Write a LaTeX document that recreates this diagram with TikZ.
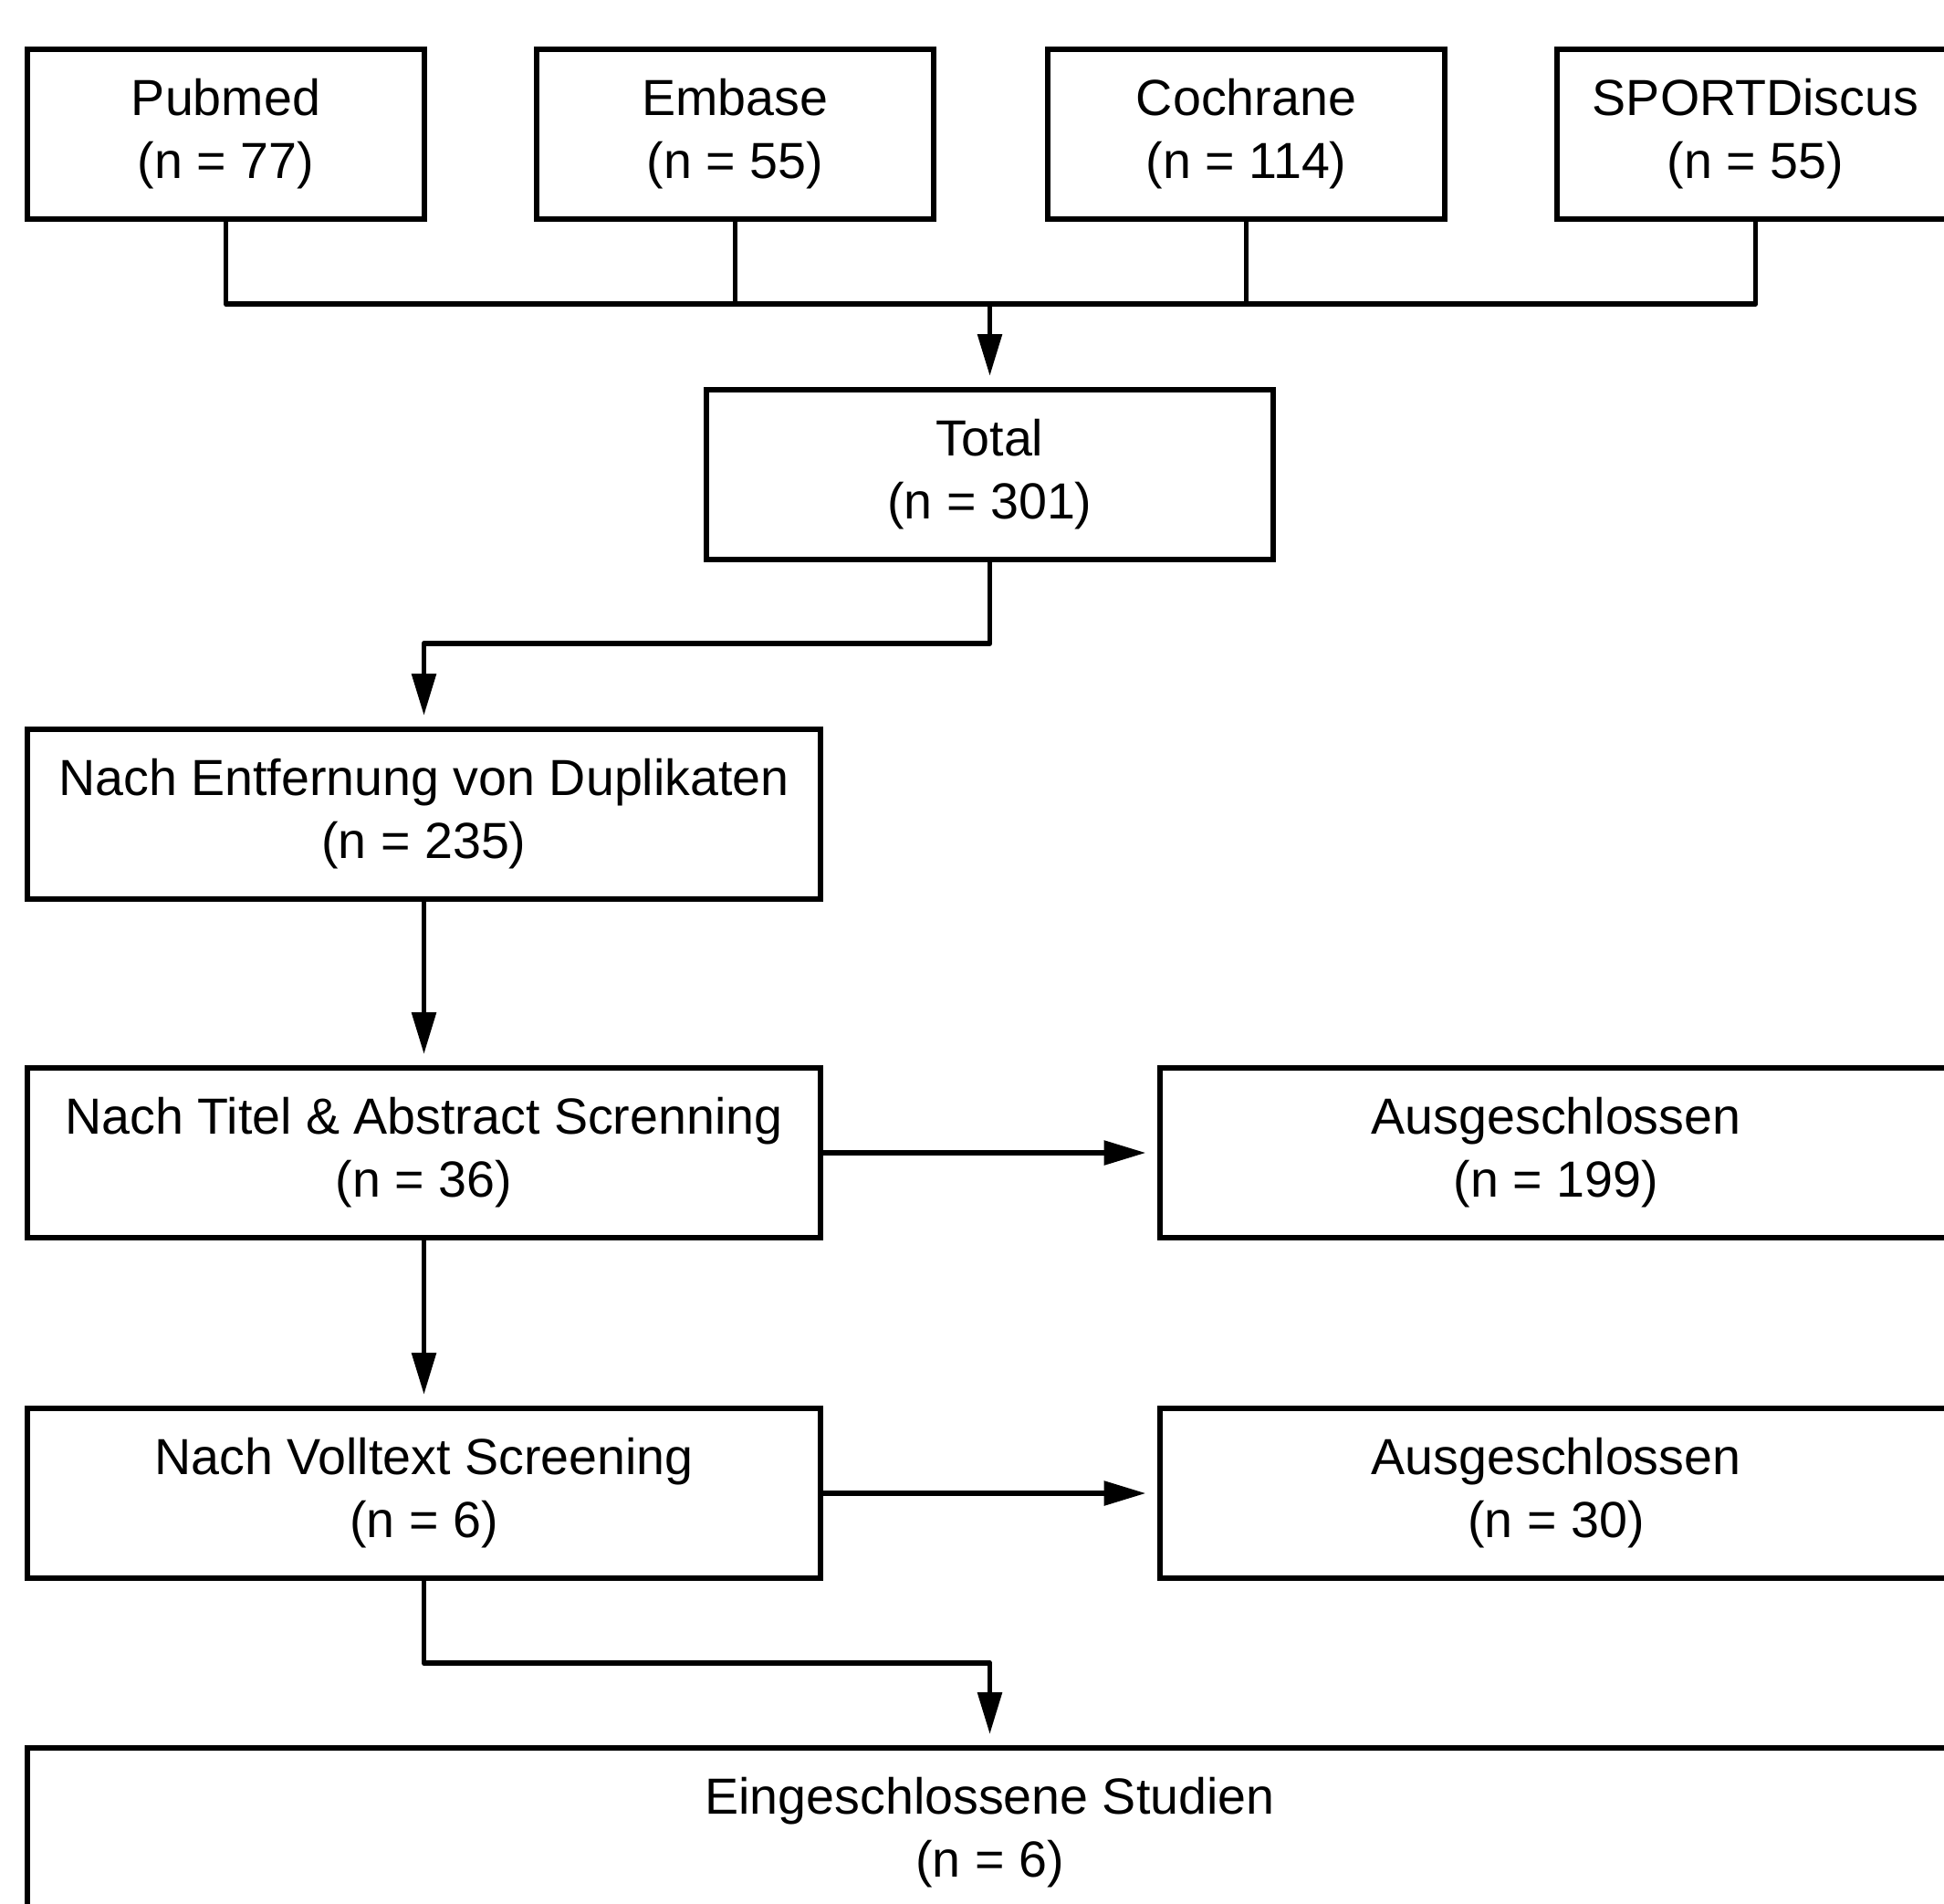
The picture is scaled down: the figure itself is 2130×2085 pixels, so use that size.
\documentclass[tikz,border=0pt]{standalone}
\usepackage{fontspec}
\setmainfont{Liberation Sans}
\usetikzlibrary{arrows.meta}
\begin{document}
\begin{tikzpicture}[x=0.5pt,y=-0.5pt,
  box/.style={draw=black,line width=3pt,rectangle,align=center,inner sep=0pt,
    font=\fontsize{27.8pt}{34.5pt}\selectfont},
  srcbox/.style={box,minimum width=217.5pt,minimum height=93pt},
  widebox/.style={box,minimum width=434.5pt,minimum height=93pt},
  conn/.style={line width=2.9pt,line join=round},
  arr/.style={conn,-{Triangle[length=23pt,width=13pt]},shorten >=6pt}]
\useasboundingbox (0,0) rectangle (2130,2085);
\clip (0,0) rectangle (2130,2085);
\node[srcbox] (pub) at (247.5,147) {Pubmed\\(n = 77)\rule[-4pt]{0pt}{4pt}};
\node[srcbox] (emb) at (805.5,147) {Embase\\(n = 55)\rule[-4pt]{0pt}{4pt}};
\node[srcbox] (coch) at (1365.5,147) {Cochrane\\(n = 114)\rule[-4pt]{0pt}{4pt}};
\node[srcbox] (sport) at (1923.5,147) {SPORTDiscus\\(n = 55)\rule[-4pt]{0pt}{4pt}};
\node[box,minimum width=310.5pt,minimum height=93pt] (total) at (1084.5,520) {Total\\(n = 301)\rule[-4pt]{0pt}{4pt}};
\node[widebox] (dup) at (464.5,892) {Nach Entfernung von Duplikaten\\(n = 235)\rule[-4pt]{0pt}{4pt}};
\node[widebox] (titel) at (464.5,1263) {Nach Titel \& Abstract Screnning\\(n = 36)\rule[-4pt]{0pt}{4pt}};
\node[widebox] (aus1) at (1705,1263) {Ausgeschlossen\\(n = 199)\rule[-4pt]{0pt}{4pt}};
\node[widebox] (voll) at (464.5,1636) {Nach Volltext Screening\\(n = 6)\rule[-4pt]{0pt}{4pt}};
\node[widebox] (aus2) at (1705,1636) {Ausgeschlossen\\(n = 30)\rule[-4pt]{0pt}{4pt}};
\node[box,minimum width=1055pt,minimum height=93pt] (eing) at (1084.5,2008) {Eingeschlossene Studien\\(n = 6)\rule[-4pt]{0pt}{4pt}};
\coordinate (bus) at (1084.5,333);
\coordinate (k1) at (1084.5,705);
\coordinate (k2) at (464.5,1822);
\draw[conn] (pub.south) -- (pub.south |- bus) -- (sport.south |- bus) -- (sport.south);
\draw[conn] (emb.south) -- (emb.south |- bus);
\draw[conn] (coch.south) -- (coch.south |- bus);
\draw[arr] (bus) -- (total.north);
\draw[arr] (total.south) -- (k1) -| (dup.north);
\draw[arr] (dup.south) -- (titel.north);
\draw[arr] (titel.east) -- (aus1.west);
\draw[arr] (titel.south) -- (voll.north);
\draw[arr] (voll.east) -- (aus2.west);
\draw[arr] (voll.south) -- (k2) -| (eing.north);
\end{tikzpicture}
\end{document}
